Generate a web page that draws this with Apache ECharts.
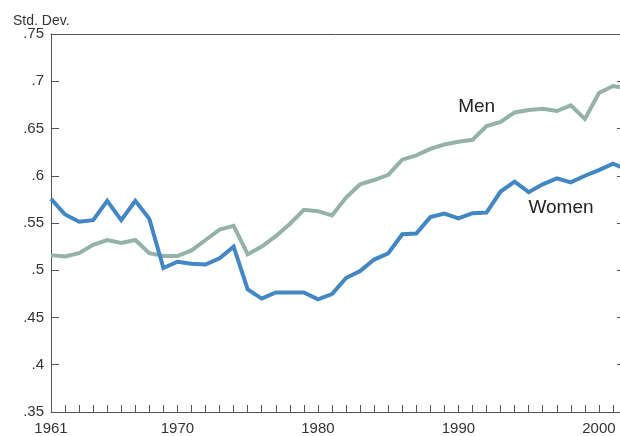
<!DOCTYPE html>
<html>
<head>
<meta charset="utf-8">
<script src="https://cdn.jsdelivr.net/npm/echarts@6/dist/echarts.min.js"></script>
<style>
  html, body { margin: 0; padding: 0; background: #fff; }
  #chart { width: 620px; height: 436px; }
</style>
</head>
<body>
<div id="chart"></div>
<script>
// ── Data ──────────────────────────────────────────────────────────────────
const YEARS = [
  1961, 1962, 1963, 1964, 1965, 1966, 1967, 1968, 1969, 1970,
  1971, 1972, 1973, 1974, 1975, 1976, 1977, 1978, 1979, 1980,
  1981, 1982, 1983, 1984, 1985, 1986, 1987, 1988, 1989, 1990,
  1991, 1992, 1993, 1994, 1995, 1996, 1997, 1998, 1999, 2000,
  2001, 2002
]

const MEN = [
  0.516, 0.5145, 0.518, 0.527, 0.532, 0.529, 0.532, 0.518, 0.515, 0.515,
  0.521, 0.532, 0.543, 0.547, 0.517, 0.525, 0.536, 0.549, 0.564, 0.5625,
  0.558, 0.577, 0.591, 0.5955, 0.601, 0.617, 0.6215, 0.6285, 0.633, 0.636,
  0.638, 0.6525, 0.657, 0.667, 0.6695, 0.671, 0.6685, 0.6745, 0.66, 0.6875,
  0.695, 0.6926
]

const WOMEN = [
  0.5756, 0.559, 0.5513, 0.553, 0.5735, 0.553, 0.5735, 0.5544, 0.5023, 0.509,
  0.507, 0.506, 0.5127, 0.5249, 0.4797, 0.47, 0.4765, 0.4765, 0.4765, 0.4693,
  0.4748, 0.4918, 0.4991, 0.5113, 0.5179, 0.5381, 0.5388, 0.5562, 0.56, 0.5548,
  0.5604, 0.561, 0.5833, 0.5938, 0.5826, 0.5909, 0.5972, 0.593, 0.6, 0.6059,
  0.6128, 0.6066
]

const X_LABEL_YEARS = [1961, 1970, 1980, 1990, 2000]
const Y_TICKS = ['.35', '.4', '.45', '.5', '.55', '.6', '.65', '.7', '.75']
const SERIES_LABELS = { men: 'Men', women: 'Women' }
const LABEL_AT = { men: [1991.3, 0.673], women: [1997.3, 0.566] }

// ── Styling ───────────────────────────────────────────────────────────────
const FONT = "'Liberation Sans Narrow', 'Arial Narrow', 'Liberation Sans', Arial, sans-serif"
const AXIS_COLOR = '#555'
const TEXT_COLOR = '#333'

const pair = (xs, ys) => xs.map((x, i) => [x, ys[i]])

function seriesLabel(text, coord) {
  return {
    silent: true,
    symbol: 'circle',
    symbolSize: 0,
    data: [{ coord }],
    label: {
      show: true,
      position: 'inside',
      formatter: text,
      color: '#222',
      fontSize: 19,
      fontFamily: FONT
    }
  }
}

const chart = echarts.init(document.getElementById('chart'), null, { renderer: 'canvas' })

chart.setOption({
  animation: false,
  title: {
    text: 'Std. Dev.',
    left: 8,
    top: 9,
    textStyle: { fontSize: 14, fontWeight: 'normal', color: TEXT_COLOR, fontFamily: FONT }
  },
  grid: { left: 51, right: 0, top: 34, bottom: 19, containLabel: false },
  xAxis: [
    {
      type: 'value',
      min: 1961,
      max: 2001.5,
      interval: 1,
      axisLine: { lineStyle: { color: AXIS_COLOR, width: 1 } },
      axisTick: { inside: true, length: 7, lineStyle: { color: AXIS_COLOR } },
      splitLine: { show: false },
      axisLabel: {
        margin: 9,
        fontSize: 15,
        color: TEXT_COLOR,
        fontFamily: FONT,
        showMaxLabel: false,
        formatter: (v) => (X_LABEL_YEARS.includes(Math.round(v)) && Math.abs(v - Math.round(v)) < 1e-6 ? String(Math.round(v)) : '')
      }
    },
    {
      type: 'value',
      position: 'top',
      min: 1961,
      max: 2001.5,
      axisLine: { show: true, lineStyle: { color: AXIS_COLOR, width: 1 } },
      axisTick: { show: false },
      axisLabel: { show: false },
      splitLine: { show: false }
    }
  ],
  yAxis: [
    {
      type: 'value',
      min: 0.35,
      max: 0.75,
      interval: 0.05,
      axisLine: { show: true, lineStyle: { color: AXIS_COLOR, width: 1 } },
      axisTick: { show: true, inside: true, length: 8, lineStyle: { color: AXIS_COLOR } },
      splitLine: { show: false },
      axisLabel: {
        margin: 7,
        fontSize: 15,
        color: TEXT_COLOR,
        fontFamily: FONT,
        formatter: (v) => Y_TICKS[Math.round((v - 0.35) / 0.05)]
      }
    },
    {
      type: 'value',
      position: 'right',
      min: 0.35,
      max: 0.75,
      interval: 0.05,
      axisLine: { show: false },
      axisTick: { show: true, inside: true, length: 3, lineStyle: { color: AXIS_COLOR } },
      axisLabel: { show: false },
      splitLine: { show: false }
    }
  ],
  series: [
    {
      name: SERIES_LABELS.men,
      type: 'line',
      data: pair(YEARS, MEN),
      showSymbol: false,
      symbol: 'none',
      lineStyle: { color: '#95b2a7', width: 4, join: 'miter' },
      markPoint: seriesLabel(SERIES_LABELS.men, LABEL_AT.men)
    },
    {
      name: SERIES_LABELS.women,
      type: 'line',
      data: pair(YEARS, WOMEN),
      showSymbol: false,
      symbol: 'none',
      lineStyle: { color: '#4287c3', width: 4, join: 'miter' },
      markPoint: seriesLabel(SERIES_LABELS.women, LABEL_AT.women)
    }
  ]
})
</script>
</body>
</html>
